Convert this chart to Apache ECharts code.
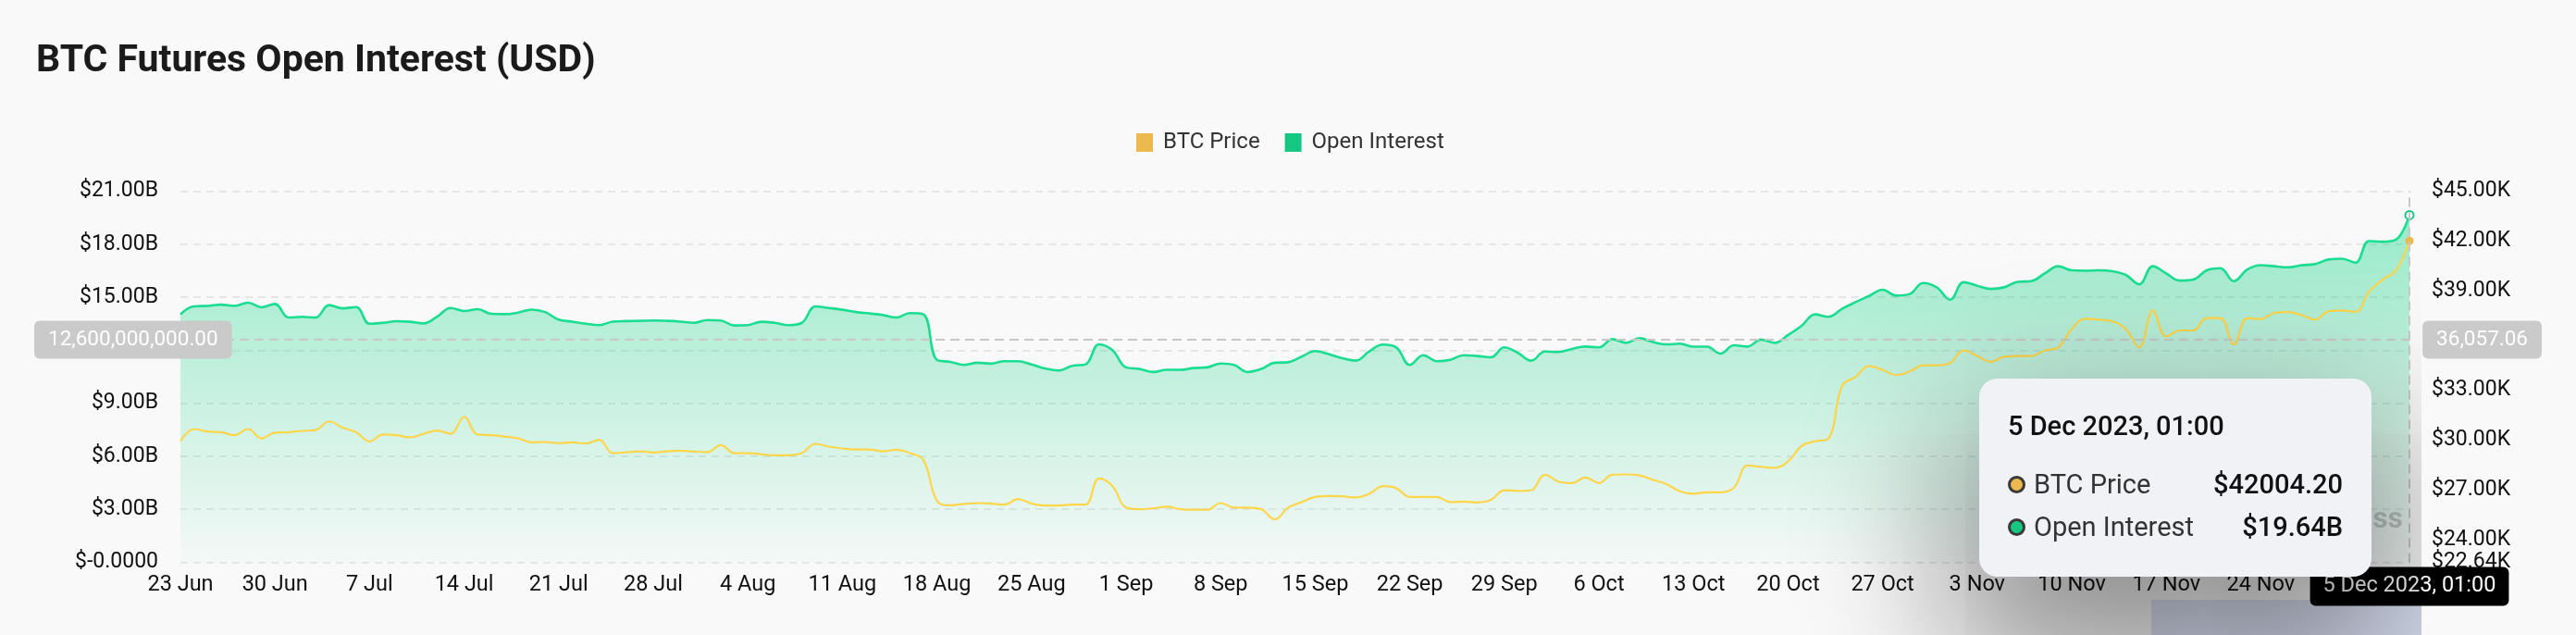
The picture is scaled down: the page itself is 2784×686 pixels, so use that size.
<!DOCTYPE html>
<html>
<head>
<meta charset="utf-8">
<script src="https://cdn.jsdelivr.net/npm/echarts@6/dist/echarts.min.js"></script>
<style>
html,body{margin:0;padding:0;background:#f9f9f9;width:2784px;height:686px;overflow:hidden;}
#chart{position:absolute;left:37px;top:0;width:2710px;height:686px;}
#tipclip{position:absolute;left:0;top:0;width:2617px;height:686px;overflow:hidden;pointer-events:none;z-index:10;}
</style>
</head>
<body>
<div id="chart"></div>
<div id="tipclip"></div>
<script>
// ---------- data ----------
const MONTHS = ['Jan','Feb','Mar','Apr','May','Jun','Jul','Aug','Sep','Oct','Nov','Dec'];
const START_DATE_UTC = Date.UTC(2023, 5, 23, 1); // 23 Jun 2023, 01:00
const DAY_COUNT = 166;                            // through 5 Dec 2023, 01:00
const dateLabels = [];
for (let i = 0; i < DAY_COUNT; i++) {
  const d = new Date(START_DATE_UTC + i * 86400000);
  dateLabels.push(d.getUTCDate() + ' ' + MONTHS[d.getUTCMonth()] + ' ' + d.getUTCFullYear() + ', 01:00');
}

// BTC price, USD
const btcPrice = [
  29930,30670,30520,30480,30300,30670,30110,30450,30480,30560,
  30610,31130,30760,30480,29930,30340,30300,30170,30390,30580,
  30390,31410,30340,30300,30220,30110,29870,29890,29820,29870,
  29800,30020,29220,29270,29330,29260,29330,29370,29310,29280,
  29700,29220,29220,29150,29090,29090,29220,29780,29610,29500,
  29440,29440,29330,29420,29220,28810,26350,26080,26160,26210,
  26180,26120,26450,26180,26070,26070,26120,26120,27700,27230,
  25940,25840,25900,25990,25840,25810,25810,26210,25940,25940,
  25840,25230,25940,26270,26580,26640,26620,26550,26770,27230,
  27110,26580,26580,26580,26270,26300,26250,26400,26990,26940,
  26990,27920,27510,27420,27750,27420,27920,27940,27880,27610,
  27360,26920,26770,26860,26860,27140,28480,28400,28330,28720,
  29650,29930,30110,33270,33820,34470,34230,33920,34140,34510,
  34510,34660,35400,35070,34720,35030,35070,35070,35400,35590,
  36700,37310,37260,37170,36700,35590,37820,36240,36610,36610,
  37350,37350,35770,37350,37300,37670,37720,37540,37260,37760,
  37820,37720,38930,39670,40230,42004.20
];

// Open interest, billions USD
const openInterestB = [
  14.03,14.48,14.51,14.58,14.51,14.69,14.43,14.62,13.85,13.89,
  13.85,14.55,14.37,14.44,13.50,13.55,13.64,13.61,13.52,13.90,
  14.39,14.22,14.32,14.06,14.04,14.13,14.30,14.16,13.73,13.62,
  13.50,13.42,13.62,13.65,13.66,13.68,13.66,13.62,13.55,13.71,
  13.68,13.40,13.42,13.61,13.55,13.42,13.55,14.48,14.39,14.29,
  14.16,14.08,13.99,13.85,14.10,14.03,11.45,11.34,11.17,11.29,
  11.24,11.38,11.38,11.20,10.97,10.85,11.12,11.20,12.33,11.99,
  11.03,10.94,10.77,10.89,10.89,10.99,11.03,11.25,11.17,10.77,
  10.94,11.29,11.32,11.64,11.95,11.78,11.55,11.41,11.93,12.32,
  12.16,11.17,11.72,11.38,11.46,11.72,11.67,11.60,12.16,11.85,
  11.41,11.93,11.90,12.07,12.21,12.16,12.63,12.42,12.68,12.46,
  12.33,12.37,12.20,12.20,11.81,12.28,12.21,12.60,12.42,12.86,
  13.38,14.03,13.89,14.34,14.72,15.07,15.42,15.09,15.18,15.80,
  15.56,14.86,15.85,15.65,15.47,15.56,15.87,15.91,16.34,16.75,
  16.52,16.50,16.52,16.47,16.26,15.73,16.75,16.34,15.94,16.00,
  16.52,16.64,15.91,16.57,16.81,16.75,16.69,16.81,16.87,17.13,
  17.18,16.95,18.17,18.14,18.26,19.64
];

// axis ranges
const OI_AXIS = { min: 0, max: 21e9, splitNumber: 7 };
const PRICE_AXIS = { min: 22642.65, max: 45000, splitNumber: 7 };
// hovered point of the crosshair
const HOVER_INDEX = DAY_COUNT - 1;
const HOVER_OI_LEVEL = 12.6e9;

// ---------- chart ----------
const FONT = 'Roboto, "Noto Sans", sans-serif';
const chart = echarts.init(document.getElementById('chart'), null, { renderer: 'canvas' });

function commas(v) {
  return Number(v).toLocaleString('en-US', { minimumFractionDigits: 2, maximumFractionDigits: 2 });
}
const SERIES_COLORS = { 'BTC Price': '#ebb94e', 'Open Interest': '#16c784' };

const option = {
  animation: false,
  backgroundColor: 'transparent',
  textStyle: { fontFamily: FONT },
  title: {
    text: 'BTC Futures Open Interest (USD)',
    left: 2, top: 46, padding: 0,
    textStyle: { fontFamily: FONT, fontSize: 41, fontWeight: 'bold', color: '#1b1b1b' }
  },
  legend: {
    data: ['BTC Price', 'Open Interest'],
    left: 1191, top: 142, padding: 0,
    itemWidth: 18, itemHeight: 20, itemGap: 27,
    icon: 'rect',
    textStyle: { fontFamily: FONT, fontSize: 24, color: '#333', padding: [0, 0, 0, 6] }
  },
  grid: { left: 158, right: 143, top: 206.5, bottom: 78.5, containLabel: false },
  tooltip: {
    trigger: 'axis',
    triggerOn: 'none',
    alwaysShowContent: true,
    transitionDuration: 0,
    appendTo: document.getElementById('tipclip'),
    position: [2102, 409],
    backgroundColor: '#f1f2f6',
    borderWidth: 0,
    borderRadius: 20,
    padding: [32, 31, 31, 31],
    extraCssText: 'box-shadow: 0 75px 160px 30px rgba(0,0,0,0.42); width:362px; box-sizing:content-box;',
    axisPointer: {
      type: 'cross',
      lineStyle: { color: '#c8c8c8', width: 2, type: [10, 6] },
      crossStyle: { color: '#c8c8c8', width: 2, type: [10, 6] }
    },
    formatter: function (params) {
      const idx = params[0].dataIndex;
      let html = '<div style="font-family:' + FONT.replace(/"/g, "'") + ';">';
      html += '<div style="font-size:29px;line-height:38px;color:#111;font-weight:500;margin-bottom:21px;">' + dateLabels[idx] + '</div>';
      ['BTC Price', 'Open Interest'].forEach(function (name) {
        const p = params.find(function (q) { return q.seriesName === name; });
        if (!p) return;
        const val = name === 'BTC Price' ? '$' + Number(p.value).toFixed(2) : '$' + (p.value / 1e9).toFixed(2) + 'B';
        html += '<div style="display:flex;align-items:center;height:46px;font-size:29px;">' +
          '<span style="display:inline-block;width:13px;height:13px;border-radius:50%;border:3px solid #3a3a3a;background:' + SERIES_COLORS[name] + ';margin-right:9px;"></span>' +
          '<span style="color:#333;flex:1;">' + name + '</span>' +
          '<span style="color:#111;font-weight:500;">' + val + '</span></div>';
      });
      html += '</div>';
      return html;
    }
  },
  xAxis: {
    type: 'category',
    data: dateLabels,
    boundaryGap: false,
    axisLine: { show: false },
    axisTick: { show: false },
    splitLine: { show: false },
    axisLabel: {
      interval: 6, fontSize: 23.5, color: '#111', margin: 13, fontFamily: FONT,
      formatter: function (v) { const s = v.split(' '); return s[0] + ' ' + s[1]; }
    },
    axisPointer: {
      lineStyle: { color: '#c8c8c8', width: 2, type: [10, 6] },
      label: {
        show: true, backgroundColor: '#000', color: '#fff', fontSize: 23.5, fontFamily: FONT,
        padding: [9, 14], borderRadius: 6, margin: 5,
        formatter: function (p) { return p.value; }
      }
    }
  },
  yAxis: [
    {
      type: 'value', position: 'left',
      min: OI_AXIS.min, max: OI_AXIS.max, splitNumber: OI_AXIS.splitNumber,
      axisLine: { show: false }, axisTick: { show: false },
      axisLabel: {
        fontSize: 23, color: '#111', margin: 24, fontFamily: FONT,
        formatter: function (v) { return v === 0 ? '$-0.0000' : '$' + (v / 1e9).toFixed(2) + 'B'; }
      },
      splitLine: { show: true, lineStyle: { color: 'rgba(0,0,0,0.08)', width: 2, type: [8, 6] } },
      axisPointer: {
        lineStyle: { color: '#c8c8c8', width: 2, type: [10, 6] },
        label: {
          show: true, backgroundColor: '#cacaca', color: '#fff', fontSize: 22.5, fontFamily: FONT,
          padding: [9, 15], borderRadius: 6, margin: 24,
          formatter: function (p) { return commas(Math.round(p.value / 1e6) * 1e6); }
        }
      }
    },
    {
      type: 'value', position: 'right',
      min: PRICE_AXIS.min, max: PRICE_AXIS.max, splitNumber: PRICE_AXIS.splitNumber,
      axisLine: { show: false }, axisTick: { show: false },
      axisLabel: {
        fontSize: 23, color: '#111', margin: 24, fontFamily: FONT, showMinLabel: true,
        formatter: function (v) { return '$' + (v / 1000).toFixed(2) + 'K'; }
      },
      splitLine: { show: false },
      axisPointer: {
        lineStyle: { color: '#c8c8c8', width: 2, type: [10, 6] },
        label: {
          show: true, backgroundColor: '#cacaca', color: '#fff', fontSize: 22.5, fontFamily: FONT,
          padding: [9, 15], borderRadius: 6, margin: 24,
          formatter: function (p) { return commas(p.value); }
        }
      }
    }
  ],
  graphic: [
    { type: 'rect', left: 2288, top: 648, z: -10, silent: true,
      shape: { width: 292, height: 40 }, style: { fill: 'rgba(120,145,230,0.22)' } },
    { type: 'text', x: 2560, y: 562, z: -5, silent: true,
      style: { text: 'coinglass', font: 'bold 32px Roboto', fill: 'rgba(0,0,0,0.2)',
               align: 'right', verticalAlign: 'middle', textAlign: 'right', textVerticalAlign: 'middle' } }
  ],
  series: [
    {
      name: 'Open Interest', type: 'line', yAxisIndex: 0,
      data: openInterestB.map(function (v) { return v * 1e9; }),
      smooth: 0.4, showSymbol: false, symbol: 'emptyCircle', symbolSize: 9,
      itemStyle: { color: '#16c784' },
      lineStyle: { color: '#19c985', width: 2.6 },
      areaStyle: {
        color: new echarts.graphic.LinearGradient(0, 0, 0, 1, [
          { offset: 0, color: 'rgba(24,196,128,0.62)' },
          { offset: 0.4, color: 'rgba(24,196,128,0.38)' },
          { offset: 1, color: 'rgba(24,196,128,0.03)' }
        ])
      },
      emphasis: { scale: false, lineStyle: { width: 2.6 } },
      z: 2
    },
    {
      name: 'BTC Price', type: 'line', yAxisIndex: 1,
      data: btcPrice,
      smooth: 0.4, showSymbol: false, symbol: 'circle', symbolSize: 9,
      itemStyle: { color: '#ebb94e' },
      lineStyle: { color: '#f5c243', width: 2.2 },
      emphasis: { scale: false, lineStyle: { width: 2.2 } },
      z: 3
    }
  ]
};
chart.setOption(option);

const px = chart.convertToPixel({ xAxisIndex: 0 }, HOVER_INDEX);
const py = chart.convertToPixel({ yAxisIndex: 0 }, HOVER_OI_LEVEL);
chart.dispatchAction({ type: 'showTip', x: px, y: py });
</script>
</body>
</html>
